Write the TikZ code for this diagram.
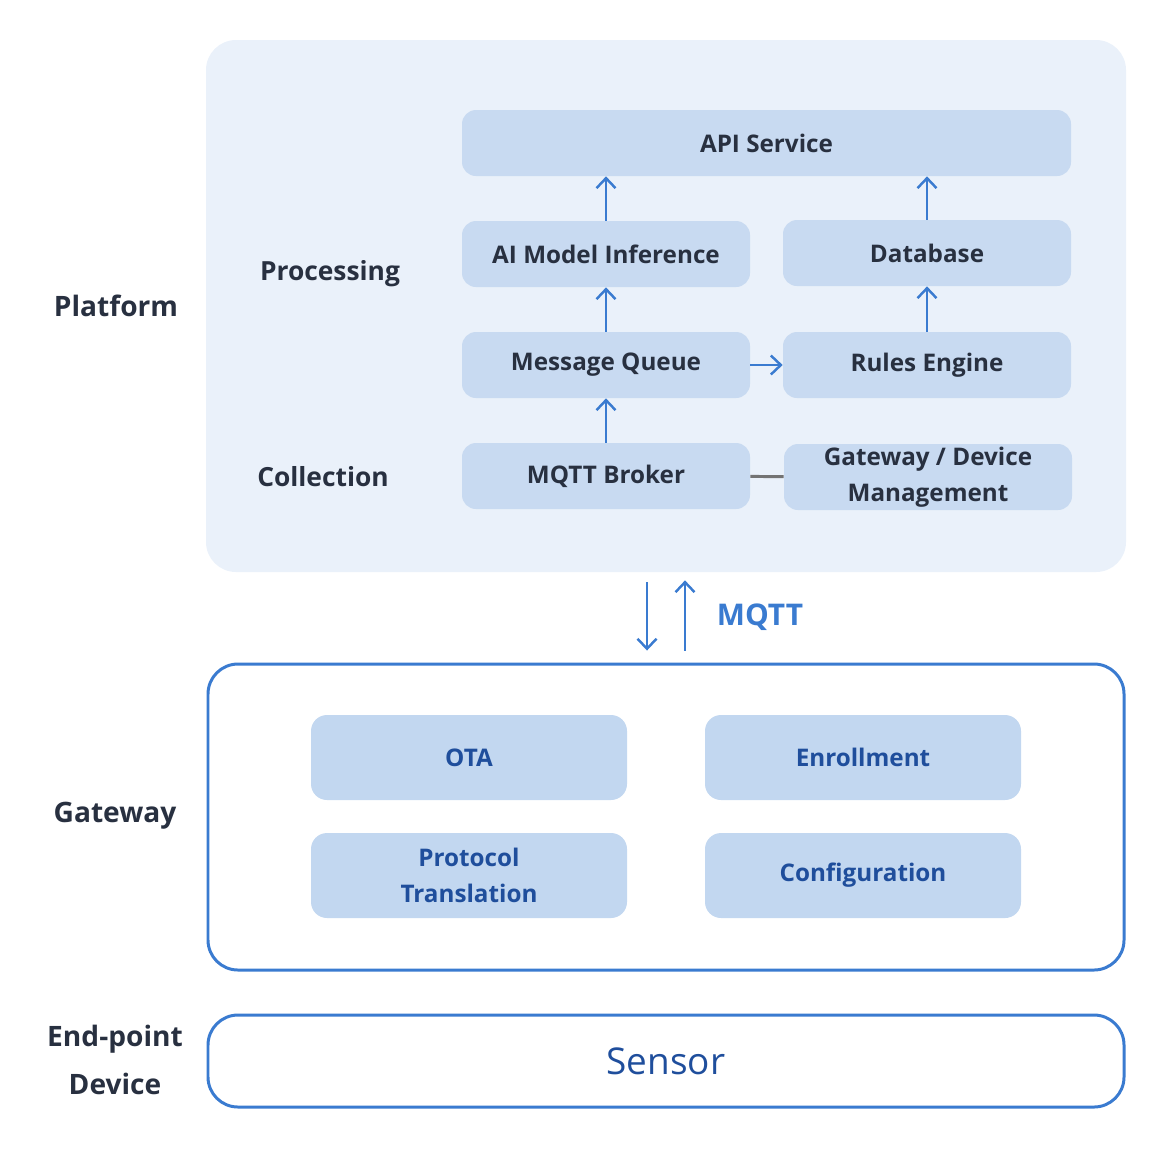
\documentclass[tikz,border=0pt]{standalone}
\usepackage{fontspec}
\setmainfont{Open Sans}
\usepackage{tikz}
\usetikzlibrary{arrows.meta, positioning, calc}
\definecolor{panelbg}{HTML}{EAF1FA}
\definecolor{boxfill}{HTML}{C8DAF1}
\definecolor{gwfill}{HTML}{C2D7F0}
\definecolor{accent}{HTML}{3A7BD0}
\definecolor{inktext}{HTML}{283040}
\definecolor{bluetext}{HTML}{1F4E9C}

\begin{document}
\begin{tikzpicture}[
font=\bfseries,
panel/.style={rectangle, rounded corners=0.6cm, inner sep=0pt},
box/.style={rectangle, fill=boxfill, rounded corners=0.28cm,
minimum width=5.76cm, minimum height=1.32cm, align=center,
text=inktext, font=\fontsize{13.8}{20.4}\selectfont\bfseries},
gwbox/.style={rectangle, fill=gwfill, rounded corners=0.32cm,
minimum width=6.32cm, minimum height=1.7cm, align=center,
text=bluetext, font=\fontsize{13.8}{20.4}\selectfont\bfseries},
layer/.style={text=inktext, align=center, font=\fontsize{16}{24}\selectfont\bfseries},
step label/.style={layer, font=\fontsize{15}{20}\selectfont\bfseries},
arrow/.style={-{Straight Barb[length=0.2cm, width=0.38cm]}, accent, line width=1.4pt}
]
\useasboundingbox (0,0) rectangle (23.42,-23.02);

% platform
\node[panel, fill=panelbg, minimum width=18.4cm, minimum height=10.64cm] (platform) at (13.32,-6.12) {};
\node[box, minimum width=12.18cm] (api) at (15.33,-2.86) {API Service};
\node[box] (inference) at (12.12,-5.08) {AI Model Inference};
\node[box] (database) at (18.54,-5.06) {Database};
\node[box] (queue) at (12.12,-7.30) {Message Queue};
\node[box] (rules) at (18.54,-7.30) {Rules Engine};
\node[box] (broker) at (12.12,-9.52) {MQTT Broker};
\node[box, inner ysep=0pt] (devmgmt) at (18.56,-9.54) {Gateway / Device\\Management};

\draw[arrow] (broker) -- (queue);
\draw[arrow] (queue) -- (inference);
\draw[arrow] (inference.north) -- (inference.north |- api.south);
\draw[arrow] (queue) -- (rules);
\draw[arrow] (rules) -- (database);
\draw[arrow] (database.north) -- (database.north |- api.south);
\draw[line width=1.7pt, black!55] (broker) -- (devmgmt);

% gateway
\node[panel, draw=accent, line width=1.7pt, minimum width=18.32cm, minimum height=6.12cm] (gateway) at (13.32,-16.34) {};
\node[gwbox] (ota) at (9.38,-15.15) {OTA};
\node[gwbox] (enroll) at (17.26,-15.15) {Enrollment};
\node[gwbox] (translate) at (9.38,-17.51) {Protocol\\Translation};
\node[gwbox] (config) at (17.26,-17.51) {Configuration};

\draw[arrow] ([xshift=-0.38cm, yshift=-0.2cm]platform.south) -- ([xshift=-0.38cm, yshift=0.24cm]gateway.north);
\draw[arrow] ([xshift=0.38cm, yshift=0.24cm]gateway.north) -- ([xshift=0.38cm, yshift=-0.16cm]platform.south);
\node[text=accent, font=\fontsize{17}{20}\selectfont\bfseries] (mqtt) at (15.2,-12.34) {MQTT};

% end-point
\node[panel, draw=accent, line width=1.7pt, minimum width=18.32cm, minimum height=1.84cm,
text=bluetext, font=\fontsize{21}{24}\selectfont] (sensor) at (13.32,-21.22) {Sensor};

% layer labels
\node[layer] (lplatform) at (2.32,-6.12) {Platform};
\node[step label] (lprocess) at (6.60,-5.48) {Processing};
\node[step label] (lcollect) at (6.46,-9.54) {Collection};
\node[layer] (lgateway) at (2.30,-16.32) {Gateway};
\node[layer, font=\fontsize{16}{27}\selectfont\bfseries] (ldevice) at (2.30,-21.20) {End-point\\Device};

\end{tikzpicture}
\end{document}
